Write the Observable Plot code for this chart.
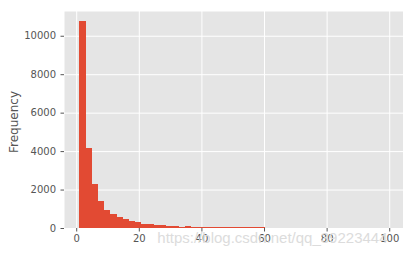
<!DOCTYPE html>
<html><head><meta charset="utf-8">
<script src="https://cdn.jsdelivr.net/npm/d3@7"></script>
<script src="https://cdn.jsdelivr.net/npm/@observablehq/plot@0.6"></script>
<style>html,body{margin:0;padding:0;background:#fff;} svg{display:block}</style>
</head><body><div id="chart"></div>
<script>
const binStart = 1, binEnd = 100, binCount = 50;
const counts = [10750, 4180, 2310, 1420, 950, 740, 590, 450, 390, 330,
  225, 220, 170, 165, 120, 115, 65, 120, 60, 55,
  50, 50, 45, 45, 40, 40, 35, 35, 30, 30,
  15, 4, 3, 2, 2, 1, 1, 1, 1, 0,
  1, 0, 0, 1, 0, 0, 0, 0, 0, 1];
const xTicks = [0, 20, 40, 60, 80, 100];
const yTicks = [0, 2000, 4000, 6000, 8000, 10000];
const yLabel = "Frequency";
const watermark = "https://blog.csdn.net/qq_39223444";

const w = (binEnd - binStart) / binCount;
const bins = counts.map((c, i) => ({x1: binStart + i * w, x2: binStart + (i + 1) * w, count: c}));

const plot = Plot.plot({
  width: 403, height: 255,
  marginLeft: 64, marginRight: 0, marginTop: 11, marginBottom: 27,
  style: {fontFamily: "DejaVu Sans", fontSize: "10px", color: "#555", background: "#fff", overflow: "visible"},
  x: {domain: [-3.9, 104.4]},
  y: {domain: [0, 11287]},
  marks: [
    Plot.frame({fill: "#E5E5E5", stroke: null}),
    Plot.gridX(xTicks, {stroke: "#fff", strokeOpacity: 1, strokeWidth: 1}),
    Plot.gridY(yTicks, {stroke: "#fff", strokeOpacity: 1, strokeWidth: 1}),
    Plot.rectY(bins, {x1: "x1", x2: "x2", y: "count", fill: "#E24A33", inset: 0, shapeRendering: "crispEdges"}),
    Plot.axisX(xTicks, {tickSize: 3.5, tickPadding: 3, stroke: "#555", fill: "#555", label: null, fontSize: 10}),
    Plot.axisY(yTicks, {tickSize: 3.5, tickPadding: 5, stroke: "#555", fill: "#555", label: null, fontSize: 10, tickFormat: d3.format("d")}),
    Plot.text([yLabel], {frameAnchor: "left", dx: -50.5, dy: 2, rotate: -90, fontSize: 12, fill: "#555", textAnchor: "middle"}),
    Plot.text([watermark], {frameAnchor: "bottom-right", dx: -16, dy: 10, textAnchor: "end", lineAnchor: "middle", fontSize: 15, fontFamily: "Liberation Sans", fill: "#dcdcdc"})
  ]
});
document.getElementById("chart").appendChild(plot);
</script>
</body></html>
